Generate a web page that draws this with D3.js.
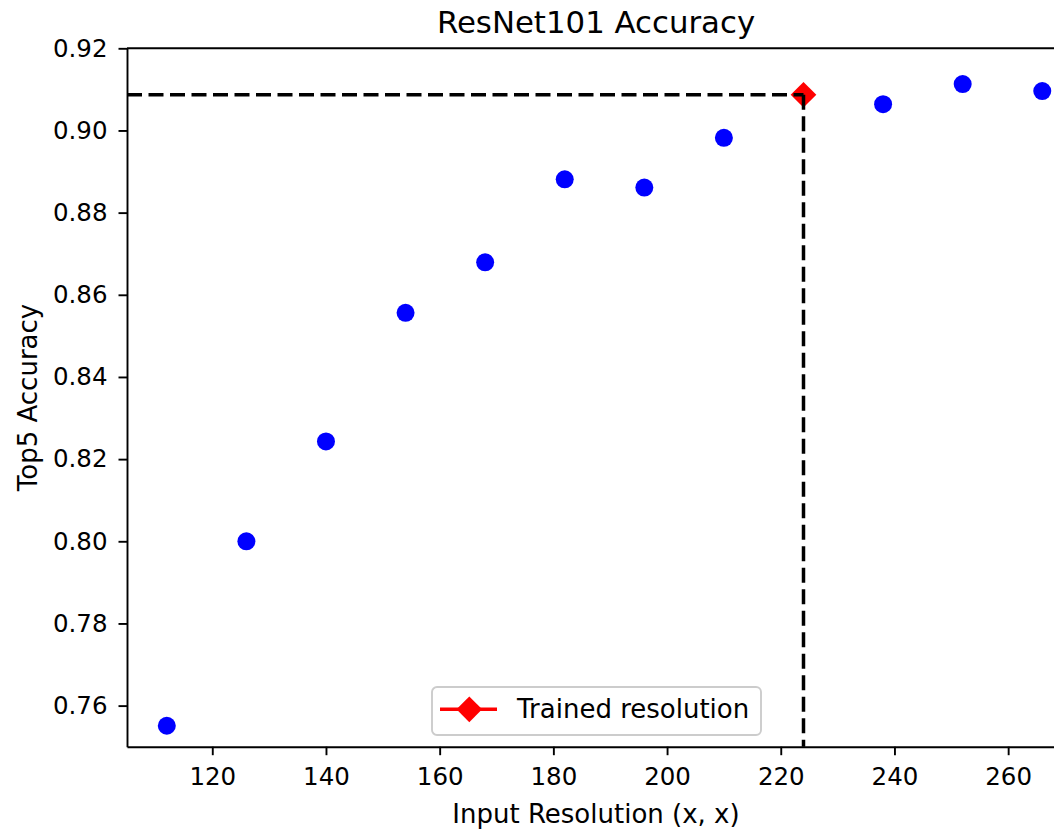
<!DOCTYPE html>
<html>
<head>
<meta charset="utf-8">
<script src="https://cdn.jsdelivr.net/npm/d3@7"></script>
<style>
  body { margin: 0; background: #fff; }
  text { font-family: "DejaVu Sans", sans-serif; fill: #000; }
</style>
</head>
<body>
<script>
// datos
const resoluciones = [112, 126, 140, 154, 168, 182, 196, 210, 238, 252, 266];
const precisiones = [0.7551, 0.8000, 0.8243, 0.8556, 0.8679, 0.8881, 0.8861, 0.8982, 0.9064, 0.9113, 0.9096];
const resEntrenada = 224;
const precEntrenada = 0.9087;
const ticksX = [120, 140, 160, 180, 200, 220, 240, 260];
const ticksY = [0.76, 0.78, 0.80, 0.82, 0.84, 0.86, 0.88, 0.90, 0.92];

const width = 1054;
const height = 835;
const margin = { top: 48.3, bottom: 88.3, left: 127, right: -11 };

const escalaX = d3.scaleLinear()
  .domain([105, 270])
  .range([margin.left, width - margin.right]);
const escalaY = d3.scaleLinear()
  .domain([0.75, 0.92])
  .range([height - margin.bottom, margin.top]);

const svg = d3.select("body")
  .append("svg")
  .attr("width", width)
  .attr("height", height);

// puntos azules
svg.selectAll("circle.punto")
  .data(resoluciones.map((r, i) => ({ r: r, v: precisiones[i] })))
  .enter()
  .append("circle")
  .attr("class", "punto")
  .attr("cx", d => escalaX(d.r))
  .attr("cy", d => escalaY(d.v))
  .attr("r", 9)
  .attr("fill", "#0000ff");

// diamante rojo
const diamante = d3.symbol().type(d3.symbolDiamond2).size(420);
svg.append("path")
  .attr("d", diamante())
  .attr("transform", "translate(" + escalaX(resEntrenada) + "," + escalaY(precEntrenada) + ")")
  .attr("fill", "#ff0000");

// lineas discontinuas
svg.append("line")
  .attr("x1", escalaX(105)).attr("x2", escalaX(resEntrenada))
  .attr("y1", escalaY(precEntrenada)).attr("y2", escalaY(precEntrenada))
  .attr("stroke", "#000").attr("stroke-width", 3.5)
  .attr("stroke-dasharray", "15,6.5");
svg.append("line")
  .attr("x1", escalaX(resEntrenada)).attr("x2", escalaX(resEntrenada))
  .attr("y1", escalaY(precEntrenada)).attr("y2", escalaY(0.75))
  .attr("stroke", "#000").attr("stroke-width", 3.5)
  .attr("stroke-dasharray", "15,6.5");

// ejes
const ejeX = d3.axisBottom(escalaX)
  .tickValues(ticksX)
  .tickFormat(d3.format("d"))
  .tickSizeInner(8.5)
  .tickSizeOuter(0)
  .tickPadding(12);
const gX = svg.append("g")
  .attr("transform", "translate(0," + (height - margin.bottom) + ")")
  .call(ejeX);

const ejeY = d3.axisLeft(escalaY)
  .tickValues(ticksY)
  .tickFormat(d3.format(".2f"))
  .tickSizeInner(8.5)
  .tickSizeOuter(0)
  .tickPadding(11);
const gY = svg.append("g")
  .attr("transform", "translate(" + margin.left + ",0)")
  .call(ejeY);

[gX, gY].forEach(g => {
  g.selectAll("text").style("font-size", "24.5px").style("font-family", "DejaVu Sans");
  g.selectAll("line").attr("stroke-width", 1.9);
  g.select(".domain").attr("stroke-width", 1.9);
});

// borde superior
svg.append("line")
  .attr("x1", margin.left).attr("x2", width - margin.right)
  .attr("y1", margin.top).attr("y2", margin.top)
  .attr("stroke", "#000").attr("stroke-width", 1.9);

// textos
const centroX = (margin.left + width - margin.right) / 2;
svg.append("text")
  .attr("x", centroX).attr("y", 33)
  .attr("text-anchor", "middle")
  .style("font-size", "30.8px")
  .text("ResNet101 Accuracy");
svg.append("text")
  .attr("x", centroX).attr("y", 823)
  .attr("text-anchor", "middle")
  .style("font-size", "26px")
  .text("Input Resolution (x, x)");
svg.append("text")
  .attr("transform", "translate(37," + ((margin.top + height - margin.bottom) / 2) + ") rotate(-90)")
  .attr("text-anchor", "middle")
  .style("font-size", "26px")
  .text("Top5 Accuracy");

// leyenda
const leyenda = svg.append("g").attr("transform", "translate(432,687)");
leyenda.append("rect")
  .attr("width", 329).attr("height", 48)
  .attr("rx", 5).attr("ry", 5)
  .attr("fill", "#fff").attr("fill-opacity", 0.8)
  .attr("stroke", "#cccccc").attr("stroke-width", 1.9);
leyenda.append("line")
  .attr("x1", 8).attr("x2", 65).attr("y1", 22.3).attr("y2", 22.3)
  .attr("stroke", "#ff0000").attr("stroke-width", 3.5);
leyenda.append("path")
  .attr("d", diamante())
  .attr("transform", "translate(37.3,22.3)")
  .attr("fill", "#ff0000");
leyenda.append("text")
  .attr("x", 85).attr("y", 31)
  .style("font-size", "26px")
  .text("Trained resolution");
</script>
</body>
</html>
